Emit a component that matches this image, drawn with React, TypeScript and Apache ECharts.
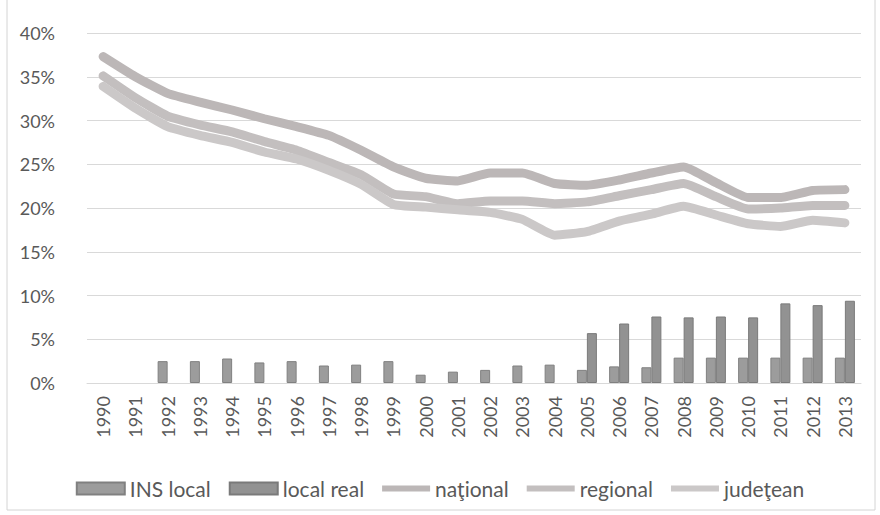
import React, { useEffect, useRef } from "react";
import * as echarts from "echarts";

const years = ["1990","1991","1992","1993","1994","1995","1996","1997","1998","1999","2000","2001","2002","2003","2004","2005","2006","2007","2008","2009","2010","2011","2012","2013"];
const insLocal = [null, null, 2.5, 2.5, 2.8, 2.35, 2.5, 2.0, 2.1, 2.5, 0.95, 1.3, 1.5, 2.0, 2.1, 1.5, 1.9, 1.8, 2.9, 2.9, 2.9, 2.9, 2.9, 2.9];
const localReal = [null, null, null, null, null, null, null, null, null, null, null, null, null, null, null, 5.7, 6.8, 7.6, 7.5, 7.6, 7.5, 9.1, 8.9, 9.4];
const national = [37.3, 35.0, 33.1, 32.1, 31.2, 30.2, 29.3, 28.3, 26.6, 24.7, 23.4, 23.1, 24.0, 24.0, 22.8, 22.6, 23.2, 24.0, 24.7, 22.9, 21.2, 21.2, 22.0, 22.1];
const regional = [35.1, 32.6, 30.5, 29.5, 28.7, 27.6, 26.6, 25.2, 23.8, 21.6, 21.3, 20.5, 20.8, 20.8, 20.5, 20.7, 21.4, 22.1, 22.8, 21.3, 19.9, 20.0, 20.3, 20.3];
const judetean = [33.9, 31.4, 29.3, 28.3, 27.5, 26.4, 25.6, 24.3, 22.7, 20.4, 20.1, 19.8, 19.5, 18.7, 16.9, 17.3, 18.5, 19.3, 20.2, 19.2, 18.2, 17.9, 18.6, 18.3];

export default function App() {
  const ref = useRef<HTMLDivElement>(null);
  useEffect(() => {
    document.body.style.margin = "0";
    const chart = echarts.init(ref.current!, undefined, { renderer: "svg" });
    const font = "Lato, 'Open Sans', sans-serif";
    const lineIcon = "path://M0,0 H48 V6 H0 Z";
    const lineSeries = (name: string, data: number[], color: string) => ({
      name,
      type: "line",
      data,
      symbol: "none",
      smooth: 0.15,
      lineStyle: { width: 9, color, cap: "round", join: "round" },
      itemStyle: { color },
      z: 3,
    });
    chart.setOption({
      animation: false,
      backgroundColor: "#ffffff",
      textStyle: { fontFamily: font },
      graphic: [
        {
          type: "rect",
          shape: { x: 7, y: -2, width: 868, height: 512 },
          style: { fill: "none", stroke: "#d4d4d4", lineWidth: 1 },
          silent: true,
        },
      ],
      grid: { left: 87, right: 19, top: 33, bottom: 132 },
      legend: {
        bottom: 11,
        left: "center",
        itemGap: 18,
        itemWidth: 48,
        itemHeight: 12,
        textStyle: { fontSize: 21, color: "#595959", fontFamily: font },
        data: [
          { name: "INS local", icon: "rect" },
          { name: "local real", icon: "rect" },
          { name: "naţional", icon: lineIcon },
          { name: "regional", icon: lineIcon },
          { name: "judeţean", icon: lineIcon },
        ],
      },
      xAxis: {
        type: "category",
        data: years,
        axisTick: { show: false },
        axisLine: { lineStyle: { color: "#d9d9d9" } },
        axisLabel: { rotate: 90, fontSize: 18, color: "#595959", margin: 13, interval: 0 },
      },
      yAxis: {
        type: "value",
        min: 0,
        max: 40,
        interval: 5,
        axisLabel: { formatter: "{value}%", fontSize: 18, color: "#595959", margin: 32 },
        splitLine: { lineStyle: { color: "#d9d9d9" } },
        axisLine: { show: false },
        axisTick: { show: false },
      },
      series: [
        {
          name: "INS local",
          type: "bar",
          data: insLocal,
          barWidth: 10,
          barGap: "0%",
          itemStyle: { color: "#9c9c9c", borderColor: "#808080", borderWidth: 1 },
        },
        {
          name: "local real",
          type: "bar",
          data: localReal,
          barWidth: 10,
          barGap: "0%",
          itemStyle: { color: "#929292", borderColor: "#7a7a7a", borderWidth: 1 },
        },
        lineSeries("naţional", national, "#bcb7b7"),
        lineSeries("regional", regional, "#c3bfbf"),
        lineSeries("judeţean", judetean, "#cbc8c8"),
      ],
    });
    return () => chart.dispose();
  }, []);
  return <div ref={ref} style={{ width: 880, height: 515 }} />;
}
